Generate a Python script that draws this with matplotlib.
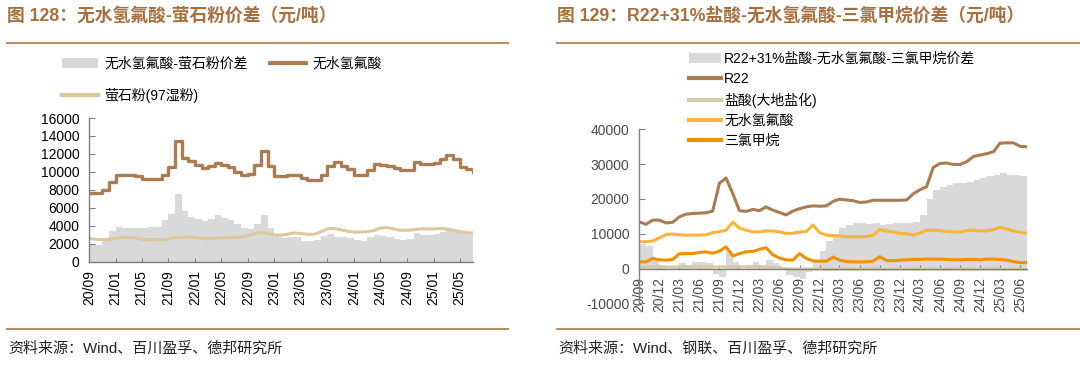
import matplotlib
matplotlib.use("Agg")
import matplotlib.pyplot as plt
import matplotlib.dates as mdates
from matplotlib.lines import Line2D
from matplotlib.patches import Patch
import pandas as pd

plt.rcParams["font.family"] = ["Liberation Sans", "Noto Sans CJK SC"]
plt.rcParams["axes.unicode_minus"] = False

# ----- Daten (monatlich, 2020/09 - 2025/07) ---------------------------------
months = pd.date_range("2020-09-01", "2025-07-01", freq="MS")

# 图128
hf_left = [7600, 7600, 8000, 8900, 9600, 9600, 9600, 9500, 9200, 9200,
           9200, 9700, 10500, 13400, 11600, 11200, 10800, 10400, 10600, 11000,
           10800, 10500, 10000, 9700, 9800, 10800, 12300, 10600, 9500, 9500,
           9700, 9700, 9300, 9100, 9100, 9700, 10700, 11100, 10700, 10300,
           9600, 9600, 10200, 10900, 10800, 10700, 10400, 10200, 10200, 11100,
           10900, 10900, 11000, 11400, 11900, 11400, 10500, 10300, 10000]
fluorite = [2600, 2500, 2450, 2500, 2600, 2700, 2700, 2650, 2500, 2450,
            2450, 2450, 2550, 2700, 2750, 2750, 2700, 2600, 2550, 2600,
            2650, 2700, 2700, 2750, 2900, 3100, 3250, 3150, 3000, 2950,
            3050, 3200, 3150, 3050, 3050, 3300, 3650, 3700, 3550, 3400,
            3300, 3300, 3350, 3450, 3750, 3800, 3650, 3500, 3500, 3550,
            3650, 3650, 3650, 3700, 3650, 3500, 3350, 3250, 3200]
spread_left = [2000, 1900, 2500, 3400, 3900, 3800, 3800, 3800, 3800, 3900,
               3900, 4600, 5300, 7500, 5600, 5000, 4800, 4500, 4800, 5200,
               4900, 4600, 4200, 3700, 3600, 4200, 5200, 3700, 2900, 2600,
               2800, 2700, 2300, 2300, 2400, 2900, 3100, 2800, 2700, 2600,
               2400, 2300, 2800, 3000, 2900, 2700, 2500, 2400, 2500, 3200,
               3000, 3000, 3100, 3300, 3500, 3400, 3200, 3100, 3000]

# 图129
r22 = [13400, 12700, 13900, 13900, 13100, 13300, 14800, 15600, 15800, 15900,
       16000, 16500, 24500, 26000, 21500, 16600, 16400, 17000, 16600, 17700,
       16800, 16100, 15400, 16500, 17200, 17700, 18000, 17900, 18000, 19300,
       19900, 19700, 19500, 19000, 19100, 19600, 19600, 19600, 19600, 19600,
       19700, 21500, 22600, 23500, 29000, 30200, 30300, 29900, 29900, 30700,
       32200, 32600, 33000, 33600, 36000, 36100, 36100, 35100, 35000]
hcl = [300, 400, 500, 450, 400, 450, 500, 500, 450, 400,
       450, 500, 500, 450, 400, 450, 500, 500, 450, 400,
       350, 200, -100, -150, -150, -200, -150, -150, -200, -200,
       -150, -150, -200, -200, -150, -150, -200, -200, -150, -150,
       -200, -200, -200, -150, -150, -200, -200, -150, -150, -200,
       -200, -200, -150, -150, -200, -200, -200, -200, -200]
hf_right = [7700, 7700, 7900, 8800, 9800, 9900, 9700, 9600, 9600, 9600,
            9700, 10300, 10600, 11000, 13300, 11600, 11000, 10500, 10500, 10800,
            10800, 10500, 10100, 10100, 10500, 10600, 12500, 10300, 9600, 9400,
            9400, 9100, 9100, 9100, 9200, 9500, 11200, 10800, 10500, 10100,
            10000, 9600, 10200, 11000, 11000, 10900, 10600, 10500, 10500, 10900,
            11000, 10800, 10800, 11200, 11800, 11400, 10800, 10400, 10100]
chcl3 = [1900, 1900, 2900, 2500, 2400, 2600, 4200, 4300, 4300, 4600,
         4800, 4400, 5000, 6200, 3600, 4300, 4800, 4900, 5500, 6000,
         4000, 3000, 2500, 2400, 4300, 2900, 2200, 2100, 2100, 3300,
         2400, 2000, 1900, 1900, 1900, 2100, 3400, 2300, 2200, 2400,
         2500, 2600, 2600, 2700, 2700, 2700, 2600, 2500, 2500, 2600,
         2600, 2500, 2700, 2700, 2600, 2400, 2000, 1700, 1700]
spread_right = [7000, 6500, 2500, 1000, -500, 500, 1500, 1000, 2000, 2000,
                1500, -1500, -2500, 5000, 2000, -500, 1000, 2000, 1000, 2500,
                1500, -500, -2000, -2500, -3000, -1000, 2000, 5000, 8000, 10000,
                11500, 12500, 13000, 13000, 12800, 13200, 12500, 12800, 13000, 13000,
                13200, 13500, 15500, 20000, 22500, 23500, 24000, 24500, 24500, 25000,
                25500, 26000, 26500, 27000, 27500, 27000, 26800, 26500, 26300]

# ----- Farben -----------------------------------------------------------------
BROWN = "#A97C52"
TAN = "#DCC79E"
GRAY = "#D9D9D9"
HCL_C = "#D8C9A8"
HF_C = "#F7B53B"
CH_C = "#F29100"
TITLE_C = "#A86F3E"
RULE_C = "#BC8D68"

fig = plt.figure(figsize=(10.8, 3.79), dpi=100)


def frame(x0, x1, title, source):
    fig.text(x0 / 1080, 1 - 16 / 379, title, fontsize=12.8, fontweight="bold",
             color=TITLE_C, va="center", ha="left")
    fig.add_artist(Line2D([x0 / 1080, x1 / 1080], [1 - 43 / 379] * 2,
                          color=RULE_C, lw=1.5, transform=fig.transFigure))
    fig.add_artist(Line2D([x0 / 1080, x1 / 1080], [1 - 329 / 379] * 2,
                          color=RULE_C, lw=1.5, transform=fig.transFigure))
    fig.text(x0 / 1080 + 0.001, 1 - 349 / 379, source, fontsize=10.8,
             color="#222222", va="center", ha="left")


def style_axes(ax, label_color, step):
    for s in ("top", "right"):
        ax.spines[s].set_visible(False)
    for s in ("left", "bottom"):
        ax.spines[s].set_color("#808080")
        ax.spines[s].set_linewidth(1.0)
    ax.tick_params(axis="both", direction="in", colors="#808080",
                   labelcolor=label_color, labelsize=10)
    ax.tick_params(axis="x", length=3, pad=6, labelrotation=90)
    ax.tick_params(axis="y", length=4, pad=7)
    ax.set_xticks(pd.date_range(months[0], months[-1], freq=f"{step}MS"))
    ax.xaxis.set_major_formatter(mdates.DateFormatter("%y/%m"))
    ax.set_xlim(months[0], months[-1])


# ----- 图128 --------------------------------------------------------------
frame(7, 508, "图 128：无水氢氟酸-萤石粉价差（元/吨）",
      "资料来源：Wind、百川盈孚、德邦研究所")
ax1 = fig.add_axes([89 / 1080, 1 - 261.7 / 379, 384 / 1080, 143.7 / 379])
ax1.fill_between(months, 0, spread_left, step="post", color=GRAY, lw=0)
ax1.plot(months, fluorite, color=TAN, lw=2.2)
ax1.plot(months, hf_left, color=BROWN, lw=2.4, drawstyle="steps-post")
ax1.set_ylim(0, 16000)
ax1.set_yticks(range(0, 16001, 2000))
style_axes(ax1, "black", 4)

h_gray = Patch(color=GRAY, lw=0)
h_hf = Line2D([], [], color=BROWN, lw=3)
h_fl = Line2D([], [], color=TAN, lw=3)
fig.legend([h_gray, h_fl, h_hf], ["无水氢氟酸-萤石粉价差", "萤石粉(97湿粉)", "无水氢氟酸"],
           ncol=2, loc="upper left", bbox_to_anchor=(55 / 1080, 1 - 50 / 379),
           frameon=False, fontsize=10, handlelength=2.6, handletextpad=0.45,
           labelspacing=1.25, columnspacing=1.6, borderpad=0)

# ----- 图129 --------------------------------------------------------------
frame(557, 1080, "图 129：R22+31%盐酸-无水氢氟酸-三氯甲烷价差（元/吨）",
      "资料来源：Wind、钢联、百川盈孚、德邦研究所")
ax2 = fig.add_axes([639.3 / 1080, 1 - 303.3 / 379, 387.4 / 1080, 174 / 379])
ax2.fill_between(months, 0, spread_right, step="post", color=GRAY, lw=0)
ax2.plot(months, hcl, color=HCL_C, lw=2.2)
ax2.plot(months, chcl3, color=CH_C, lw=2.2)
ax2.plot(months, hf_right, color=HF_C, lw=2.2)
ax2.plot(months, r22, color=BROWN, lw=2.2)
ax2.set_ylim(-10000, 40000)
ax2.set_yticks(range(-10000, 40001, 10000))
style_axes(ax2, "#4a4a4a", 3)
ax2.spines["bottom"].set_position(("data", 0))

handles = [Patch(color=GRAY, lw=0),
           Line2D([], [], color=BROWN, lw=3),
           Line2D([], [], color=HCL_C, lw=3),
           Line2D([], [], color=HF_C, lw=3),
           Line2D([], [], color=CH_C, lw=3)]
labels = ["R22+31%盐酸-无水氢氟酸-三氯甲烷价差", "R22", "盐酸(大地盐化)", "无水氢氟酸", "三氯甲烷"]
fig.legend(handles, labels, loc="upper left",
           bbox_to_anchor=(682 / 1080, 1 - 45 / 379), frameon=False, fontsize=10,
           handlelength=2.3, handletextpad=0.25, labelspacing=0.45, borderpad=0)

fig.savefig("out.png", dpi=100)
